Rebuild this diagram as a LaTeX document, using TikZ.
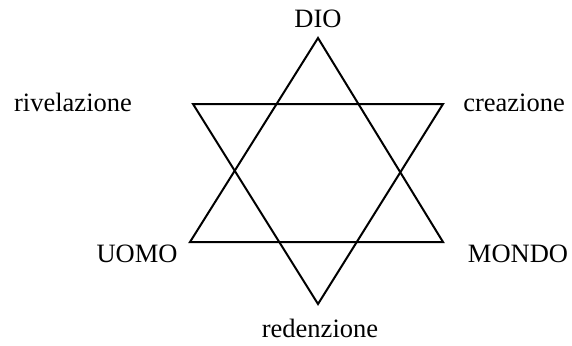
\documentclass[tikz,border=0pt]{standalone}
\usepackage{fontspec}
\setmainfont{Liberation Serif}
\begin{document}
\begin{tikzpicture}[x=1pt,y=-1pt,
  lbl/.style={font=\fontsize{26.5}{30}\selectfont, inner sep=0pt, anchor=base},
  edge/.style={line width=2pt, line join=miter}]
\useasboundingbox (0,0) rectangle (572,345);
% up triangle
\coordinate (A) at (318,38);
\coordinate (B) at (190,242);
\coordinate (C) at (443,242);
% down triangle
\coordinate (D) at (193,104);
\coordinate (E) at (443,104);
\coordinate (F) at (318,304);
\draw[edge] (A) -- (B) -- (C) -- cycle;
\draw[edge] (D) -- (E) -- (F) -- cycle;
\node[lbl] (dio) at (318,28) {DIO};
\node[lbl] (riv) at (73,111) {rivelazione};
\node[lbl] (cre) at (514,111) {creazione};
\node[lbl] (uomo) at (137,262) {UOMO};
\node[lbl] (mondo) at (518,262) {MONDO};
\node[lbl] (red) at (320,337) {redenzione};
\end{tikzpicture}
\end{document}
